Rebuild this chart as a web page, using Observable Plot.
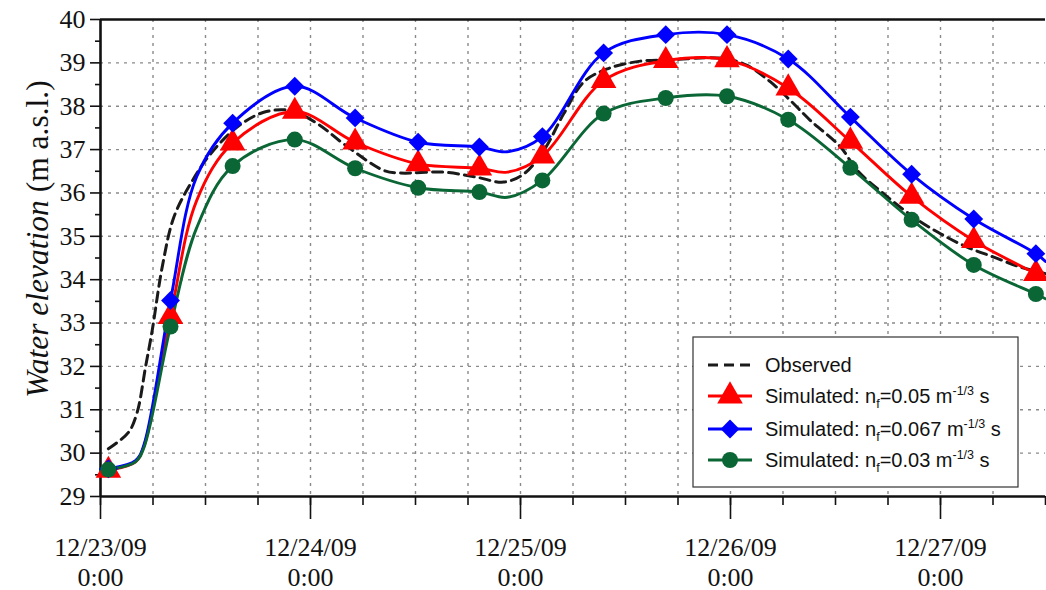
<!DOCTYPE html>
<html><head><meta charset="utf-8">
<script src="https://cdn.jsdelivr.net/npm/d3@7"></script>
<script src="https://cdn.jsdelivr.net/npm/@observablehq/plot@0.6"></script>
<style>body{margin:0;background:#fff}#chart{width:1046px;height:590px}</style>
</head><body><div id="chart"></div>
<script>
// hours since 12/23/09 0:00
const simHours    = [0, 0.9, 4.0, 4.95, 8.0, 11, 15.1, 22.2, 29.1, 36.3, 43.3, 46.5, 50.5, 57.5, 64.6, 71.6, 78.6, 85.7, 92.7, 99.8, 106.9, 108];
const markerHours = [0.9, 8.0, 15.1, 22.2, 29.1, 36.3, 43.3, 50.5, 57.5, 64.6, 71.6, 78.6, 85.7, 92.7, 99.8, 106.9];
const sim005  = [29.58, 29.60, 29.80, 30.15, 33.15, 35.83, 37.15, 37.88, 37.17, 36.67, 36.57, 36.48, 36.85, 38.59, 39.05, 39.07, 38.42, 37.19, 35.92, 34.90, 34.14, 34.03];
const sim0067 = [29.62, 29.64, 29.83, 30.18, 33.52, 36.38, 37.61, 38.46, 37.73, 37.17, 37.06, 36.95, 37.30, 39.23, 39.65, 39.65, 39.09, 37.75, 36.43, 35.40, 34.60, 34.42];
const sim003  = [29.60, 29.62, 29.80, 30.12, 32.92, 35.20, 36.62, 37.23, 36.57, 36.12, 36.02, 35.90, 36.29, 37.83, 38.19, 38.23, 37.69, 36.58, 35.38, 34.34, 33.67, 33.56];
const obsHours  = [0.9, 3.2, 4.19, 5.14, 5.91, 7.05, 8.38, 10.29, 12.57, 15.62, 18.66, 21.71, 24.77, 27.8, 32.38, 34.29, 39.23, 43.05, 46.09, 48.38, 50.66, 52.95, 55.23, 57.91, 61.71, 65.14, 69.71, 71.62, 73.91, 76.57, 78.86, 81.14, 84.57, 86.48, 89.52, 92.95, 96, 99.05, 102.09, 105.14, 108];
const obsValues = [30.10, 30.48, 30.94, 31.98, 32.83, 34.29, 35.44, 36.21, 36.90, 37.52, 37.86, 37.90, 37.60, 37.13, 36.52, 36.46, 36.48, 36.36, 36.25, 36.44, 36.98, 37.83, 38.56, 38.86, 39.04, 39.07, 39.12, 39.09, 38.94, 38.56, 38.13, 37.67, 37.06, 36.52, 35.98, 35.44, 35.06, 34.75, 34.52, 34.29, 34.14];

const dayTicks  = [0, 24, 48, 72, 96];
const dayLabels = ["12/23/09\n0:00", "12/24/09\n0:00", "12/25/09\n0:00", "12/26/09\n0:00", "12/27/09\n0:00"];
const sixHourTicks = [0, 6, 12, 18, 24, 30, 36, 42, 48, 54, 60, 66, 72, 78, 84, 90, 96, 102, 108];
const yTicks = [29, 30, 31, 32, 33, 34, 35, 36, 37, 38, 39, 40];
const yMinor = [29.5, 30.5, 31.5, 32.5, 33.5, 34.5, 35.5, 36.5, 37.5, 38.5, 39.5];

const seriesNames   = ["n0.05", "n0.067", "n0.03"];
const seriesValues  = [sim005, sim0067, sim003];
const seriesColors  = ["#ff0000", "#0000ff", "#0a6634"];
const seriesSymbols = ["triangle", "diamond2", "circle"];
const seriesR       = [9.5, 8.5, 8];
const legendNf      = ["0.05", "0.067", "0.03"];

const obsRows = obsHours.map((h, i) => ({h, v: obsValues[i]}));
const simRows = seriesNames.map((s, k) => simHours.map((h, i) => ({series: s, h, v: seriesValues[k][i]})));
const markRows = simRows.map(rows => rows.filter(d => markerHours.includes(d.h)));

const serif = "'Liberation Serif','Times New Roman',serif";
const plot = Plot.plot({
  width: 1046, height: 590,
  marginLeft: 100, marginRight: 1, marginTop: 19, marginBottom: 94,
  x: {domain: [0, 108]},
  y: {domain: [29, 40]},
  style: {fontSize: "26px", color: "#111", background: "#fff", overflow: "visible"},
  marks: [
    Plot.ruleY(yTicks.filter(v => v > 29 && v < 40), {stroke: "#8a8a8a", strokeWidth: 1.4, strokeDasharray: "3,5"}),
    Plot.ruleX(sixHourTicks.filter(v => v > 0 && v < 108), {stroke: "#8a8a8a", strokeWidth: 1.4, strokeDasharray: "3,5"}),
    Plot.axisY({ticks: yTicks, tickSize: 10, tickPadding: 5, fontSize: 26, label: null, strokeWidth: 1.6, stroke: "#111"}),
    Plot.axisY({ticks: yMinor, tickSize: 5, tickFormat: () => "", label: null, strokeWidth: 1.6, stroke: "#111"}),
    Plot.axisX({ticks: dayTicks, tickSize: 23, tickPadding: 15, fontSize: 26, lineHeight: 1.15,
      tickFormat: d => dayLabels[dayTicks.indexOf(d)], label: null, strokeWidth: 1.6, stroke: "#111"}),
    Plot.axisX({ticks: sixHourTicks, tickSize: 9, tickFormat: () => "", label: null, strokeWidth: 1.6, stroke: "#111"}),
    Plot.ruleY([29], {stroke: "#111", strokeWidth: 2.6}),
    Plot.ruleY([40], {stroke: "#111", strokeWidth: 2.6}),
    Plot.ruleX([0], {stroke: "#111", strokeWidth: 2.6}),
    Plot.line(obsRows, {x: "h", y: "v", stroke: "#1a1a1a", strokeWidth: 3, strokeDasharray: "10,6", curve: "catmull-rom"}),
    ...simRows.map((rows, k) => Plot.line(rows, {x: "h", y: "v", stroke: seriesColors[k], strokeWidth: 2.9, curve: "catmull-rom"})),
    ...markRows.map((rows, k) => Plot.dot(rows, {x: "h", y: "v", fill: seriesColors[k], stroke: "none", symbol: seriesSymbols[k], r: seriesR[k]}))
  ]
});
document.getElementById("chart").appendChild(plot);

const svg = d3.select(plot);
svg.selectAll("text").style("font-family", serif).style("font-variant", "normal");

// Y-axis title
const yt = svg.append("text")
  .attr("transform", "translate(48,239) rotate(-90)")
  .attr("text-anchor", "middle")
  .style("font-family", serif).attr("font-size", 31.5).attr("fill", "#111");
yt.append("tspan").attr("font-style", "italic").text("Water elevation");
yt.append("tspan").text(" (m a.s.l.)");

// Legend
const sans = "'Liberation Sans',Arial,sans-serif";
const lg = svg.append("g").attr("fill", "#111").attr("text-anchor", "start");
lg.append("rect").attr("x", 693).attr("y", 337).attr("width", 325).attr("height", 150)
  .attr("fill", "#fff").attr("stroke", "#333").attr("stroke-width", 1.2);
const rowsY = [365, 396, 429, 460];
lg.append("line").attr("x1", 708).attr("x2", 752).attr("y1", rowsY[0]).attr("y2", rowsY[0])
  .attr("stroke", "#1a1a1a").attr("stroke-width", 3).attr("stroke-dasharray", "10,6");
lg.append("text").attr("x", 765).attr("y", rowsY[0] + 7).attr("font-size", 20).style("font-family", sans).attr("text-anchor", "start").text("Observed");
const symMap = {triangle: d3.symbolTriangle, diamond2: d3.symbolDiamond2, circle: d3.symbolCircle};
seriesNames.forEach((s, k) => {
  const y = rowsY[k + 1];
  lg.append("line").attr("x1", 708).attr("x2", 752).attr("y1", y).attr("y2", y)
    .attr("stroke", seriesColors[k]).attr("stroke-width", 2.9);
  lg.append("path").attr("transform", `translate(730,${y})`)
    .attr("d", d3.symbol(symMap[seriesSymbols[k]], Math.PI * seriesR[k] * seriesR[k])())
    .attr("fill", seriesColors[k]);
  const t = lg.append("text").attr("x", 765).attr("y", y + 7).attr("font-size", 20).style("font-family", sans).attr("text-anchor", "start");
  t.append("tspan").text("Simulated: n");
  t.append("tspan").attr("font-size", 12.5).attr("dy", 5).text("f");
  t.append("tspan").attr("dy", -5).text("=" + legendNf[k] + " m");
  t.append("tspan").attr("font-size", 12.5).attr("dy", -8).text("-1/3");
  t.append("tspan").attr("dy", 8).text(" s");
});
</script></body></html>
